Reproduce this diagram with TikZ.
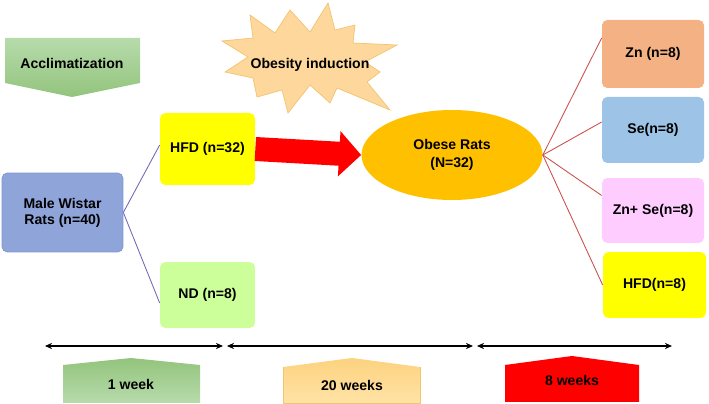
\documentclass[tikz,border=0pt]{standalone}
\usepackage{fontspec}
\setmainfont{Liberation Sans}
\usetikzlibrary{arrows.meta, shapes.geometric}
\definecolor{ratblue}{HTML}{8FA5DA}
\definecolor{ratedge}{HTML}{7C95CF}
\definecolor{hfdyellow}{HTML}{FFFF00}
\definecolor{ndgreen}{HTML}{CCFF99}
\definecolor{obeseorange}{HTML}{FFC000}
\definecolor{znsalmon}{HTML}{F4B183}
\definecolor{seblue}{HTML}{9DC3E6}
\definecolor{znsepink}{HTML}{FFCCFF}
\definecolor{starfill}{HTML}{FDD79C}
\definecolor{staredge}{HTML}{F2C46E}
\definecolor{leafgreen}{HTML}{93C47D}
\definecolor{paleleaf}{HTML}{B7DBAB}
\definecolor{paleorange}{HTML}{FFE3A6}
\definecolor{midorange}{HTML}{FDD27F}
\definecolor{branchred}{HTML}{C9524C}
\definecolor{branchpurple}{HTML}{7A66B6}

\begin{document}
\begin{tikzpicture}[x=0.02cm, y=-0.02cm, >=Stealth,
    font=\fontsize{8}{9}\selectfont\bfseries,
    group/.style={rounded corners=3pt, align=center, minimum width=1.9cm, minimum height=1.32cm},
    treat/.style={group, minimum width=2.04cm},
    branch/.style={branchred, line width=0.5pt},
    split/.style={branchpurple, line width=0.5pt},
    tline/.style={{Stealth[length=4pt,width=3.5pt]}-{Stealth[length=4pt,width=3.5pt]}, line width=0.8pt}]
  \useasboundingbox (0,0) rectangle (709,404);

  % Acclimatization banner
  \shade[top color=paleleaf, bottom color=leafgreen] (5,38) -- (140,38) -- (140,83) -- (72,97) -- (5,83) -- cycle;
  \node (accl) at (72,63) {Acclimatization};

  % Obesity induction star
  \draw[staredge, fill=starfill, line join=miter] (222,41) -- (253,38) -- (250,15) -- (275,33) -- (290,10)
    -- (310,32) -- (328,3) -- (335,30) -- (355,25) -- (353,43) -- (397,45) -- (365,62)
    -- (380,72) -- (367,82) -- (390,110) -- (337,88) -- (330,103) -- (310,85)
    -- (288,113) -- (282,90) -- (257,97) -- (253,78) -- (225,72) -- (248,57) -- cycle;
  \node (induction) at (310,65) {Obesity induction};

  % Rats and diets
  \node[group, fill=ratblue, draw=ratedge, minimum width=2.42cm, minimum height=1.58cm] (rats) at (62.5,212.5) {Male Wistar\\Rats (n=40)};
  \node[group, fill=hfdyellow, minimum height=1.44cm] (hfd) at (207.5,149) {HFD (n=32)};
  \node[group, fill=ndgreen] (nd) at (207.5,295) {ND (n=8)};
  \draw[split] (rats.east) -- ([yshift=0.08cm]hfd.west);
  \draw[split] (rats.east) -- ([yshift=-0.16cm]nd.west);

  % Obese rats
  \node[ellipse, fill=obeseorange, minimum width=3.62cm, minimum height=1.8cm, align=center,
    font=\fontsize{8}{10.4}\selectfont\bfseries] (obese) at (452,155) {Obese Rats\\(N=32)};
  \draw[red, line width=0.48cm, -{Triangle[length=0.44cm, width=0.88cm]}] (hfd.east) -- (obese.west);

  % Treatment groups
  \node[treat, fill=znsalmon, minimum height=1.36cm] (zn) at (653,54) {Zn (n=8)};
  \node[treat, fill=seblue] (se) at (653,130) {Se(n=8)};
  \node[treat, fill=znsepink, minimum height=1.3cm] (znse) at (653,210.5) {Zn+ Se(n=8)};
  \node[treat, fill=hfdyellow, minimum width=2.06cm] (hfdeight) at (654.5,285) {HFD(n=8)};
  \draw[branch] (obese.east) -- ([yshift=0.32cm]zn.west);
  \draw[branch] (obese.east) -- ([yshift=0.16cm]se.west);
  \draw[branch] (obese.east) -- ([yshift=0.3cm]znse.west);
  \draw[branch] (obese.east) -- (hfdeight.west);

  % Time line
  \coordinate (t0) at (45,346);
  \coordinate (t1) at (225,346);
  \coordinate (t2) at (475,346);
  \coordinate (t3) at (672,346);
  \draw[tline] (t0) -- ([xshift=-0.04cm]t1);
  \draw[tline] ([xshift=0.04cm]t1) -- ([xshift=-0.04cm]t2);
  \draw[tline] ([xshift=0.04cm]t2) -- (t3);

  % Periods
  \shade[top color=leafgreen, bottom color=paleleaf] (63,403) -- (63,365) -- (131,358) -- (200,365) -- (200,403) -- cycle;
  \node (week) at (131,384) {1 week};
  \shade[top color=midorange, bottom color=paleorange] (283,403) -- (283,367) -- (352,358) -- (420,367) -- (420,403) -- cycle;
  \draw[staredge] (283,367) -- (283,403) -- (420,403) -- (420,367);
  \node (twenty) at (352,385) {20 weeks};
  \fill[red] (505,402) -- (505,365) -- (572,356) -- (639,365) -- (639,402) -- cycle;
  \node (eight) at (572,380) {8 weeks};
\end{tikzpicture}
\end{document}
